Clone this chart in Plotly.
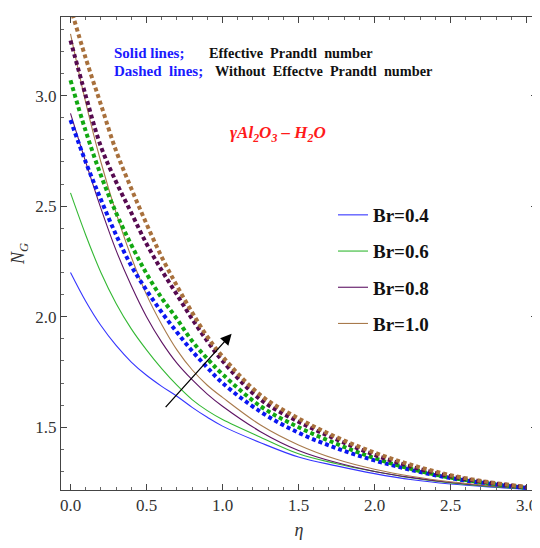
import plotly.graph_objects as go

# ---- data ----
eta = [0, 0.1, 0.2, 0.3, 0.4, 0.5, 0.6, 0.7, 0.8, 0.9, 1.0, 1.25, 1.5, 1.75, 2.0, 2.25, 2.5, 2.75, 3.0]

br_labels = ["Br=0.4", "Br=0.6", "Br=0.8", "Br=1.0"]

# solid lines: effective Prandtl number
ng_eff_04 = [2.20, 2.07, 1.96, 1.87, 1.795, 1.735, 1.685, 1.64, 1.59, 1.545, 1.505, 1.43, 1.365, 1.325, 1.29, 1.262, 1.243, 1.23, 1.22]
ng_eff_06 = [2.56, 2.37, 2.20, 2.06, 1.945, 1.85, 1.765, 1.69, 1.625, 1.575, 1.535, 1.455, 1.38, 1.335, 1.30, 1.27, 1.248, 1.232, 1.221]
ng_eff_08 = [2.92, 2.70, 2.49, 2.30, 2.14, 2.00, 1.885, 1.79, 1.715, 1.65, 1.595, 1.48, 1.395, 1.34, 1.30, 1.272, 1.25, 1.234, 1.222]
ng_eff_10 = [3.28, 2.97, 2.70, 2.47, 2.27, 2.10, 1.965, 1.85, 1.76, 1.69, 1.635, 1.51, 1.42, 1.355, 1.31, 1.277, 1.253, 1.236, 1.223]

# dashed lines: without effective Prandtl number
ng_wo_04 = [2.89, 2.70, 2.53, 2.37, 2.23, 2.12, 2.02, 1.93, 1.845, 1.77, 1.70, 1.57, 1.475, 1.405, 1.35, 1.305, 1.27, 1.245, 1.225]
ng_wo_06 = [3.07, 2.84, 2.64, 2.47, 2.325, 2.195, 2.085, 1.99, 1.89, 1.81, 1.74, 1.595, 1.50, 1.425, 1.36, 1.31, 1.272, 1.247, 1.226]
ng_wo_08 = [3.25, 3.00, 2.77, 2.61, 2.47, 2.33, 2.21, 2.10, 1.99, 1.89, 1.80, 1.625, 1.525, 1.445, 1.375, 1.32, 1.278, 1.25, 1.228]
ng_wo_10 = [3.40, 3.17, 2.96, 2.75, 2.58, 2.42, 2.27, 2.14, 2.02, 1.91, 1.82, 1.645, 1.54, 1.455, 1.385, 1.328, 1.283, 1.252, 1.23]

x_ticks = [0.0, 0.5, 1.0, 1.5, 2.0, 2.5, 3.0]
y_ticks = [1.5, 2.0, 2.5, 3.0]

# arrow (direction of increasing Br): tail and head in data units
arrow_tail = [0.617, 1.584]
arrow_head = [1.06, 1.923]

solid_colors = ["#3535ff", "#33b833", "#5e1464", "#a87a4c"]
dashed_colors = ["#0a16f2", "#12a812", "#560a50", "#a8703c"]

# the page body adds an 8px offset; the figure is sized/placed to compensate
OFF = 8
W, H = 540 - OFF, 548 - 2 * OFF
ML, MR, MT = 61 - OFF, 3, 17 - OFF
MB = H - (490 - OFF)
PW, PH = W - ML - MR, H - MT - MB


def px(x):
    # x given in screenshot pixels
    return (x - OFF - ML) / PW


def py(y):
    return 1 - (y - OFF - MT) / PH


fig = go.Figure()

solid_sets = [ng_eff_04, ng_eff_06, ng_eff_08, ng_eff_10]
dashed_sets = [ng_wo_04, ng_wo_06, ng_wo_08, ng_wo_10]

for i, (ys, lab) in enumerate(zip(solid_sets, br_labels)):
    fig.add_trace(go.Scatter(
        x=eta, y=ys, mode="lines", name="<b>" + lab + "</b>",
        line=dict(color=solid_colors[i], width=1.1, shape="spline", smoothing=1.0),
        legendgroup="g%d" % i, showlegend=True,
    ))

for i, ys in enumerate(dashed_sets):
    fig.add_trace(go.Scatter(
        x=eta, y=ys, mode="lines",
        line=dict(color=dashed_colors[i], width=4, dash="4px,3px", shape="spline", smoothing=1.0),
        showlegend=False,
    ))

serif = "Liberation Serif, Times New Roman, serif"

fig.add_annotation(
    x=arrow_head[0], y=arrow_head[1], ax=arrow_tail[0], ay=arrow_tail[1],
    xref="x", yref="y", axref="x", ayref="y",
    showarrow=True, arrowhead=2, arrowsize=1.7, arrowwidth=1.3, arrowcolor="black", text="",
)

# text annotations (positions in screenshot pixels, converted to plot-area fractions)
texts = [
    (112, 53, "<b>Solid lines;</b>", "#1a1aff", 15),
    (207, 53, "<b>Effective  Prandtl  number</b>", "#111111", 14.3),
    (112, 71, "<b>Dashed  lines;</b>", "#1a1aff", 15),
    (213, 71, "<b>Without  Effectve  Prandtl  number</b>", "#111111", 14.3),
]
for (tx, ty, t, c, s) in texts:
    fig.add_annotation(x=px(tx), y=py(ty), xref="paper", yref="paper", text=t,
                       showarrow=False, xanchor="left", yanchor="middle",
                       font=dict(family=serif, size=s, color=c))

fig.add_annotation(x=px(278), y=py(134), xref="paper", yref="paper",
                   text="<b><i>γAl<sub>2</sub>O<sub>3</sub> – H<sub>2</sub>O</i></b>",
                   showarrow=False, xanchor="center", yanchor="middle",
                   font=dict(family=serif, size=17, color="#ff1a1a"))

axis_common = dict(
    showline=True, linecolor="#444444", linewidth=1, mirror="ticks",
    ticks="inside", ticklen=6, tickcolor="#444444", tickwidth=1,
    showgrid=False, zeroline=False, automargin=False,
    tickfont=dict(family=serif, size=17, color="#333333"),
    minor=dict(ticks="inside", ticklen=3, tickcolor="#666666", dtick=0.1, showgrid=False),
)

fig.update_xaxes(range=[-0.0625, 3.069], tickvals=x_ticks,
                 ticktext=["%.1f" % v for v in x_ticks],
                 title=dict(text="<i>η</i>", font=dict(family=serif, size=18, color="#333333"), standoff=12),
                 **axis_common)
fig.update_yaxes(range=[1.216, 3.356], tickvals=y_ticks,
                 ticktext=["%.1f" % v for v in y_ticks],
                 title=dict(text="<i>N<sub>G</sub></i>", font=dict(family=serif, size=18, color="#333333"), standoff=10),
                 **axis_common)

fig.update_layout(
    width=W, height=H,
    margin=dict(l=ML, r=MR, t=MT, b=MB),
    paper_bgcolor="white", plot_bgcolor="white",
    legend=dict(x=px(333), y=py(196), xanchor="left", yanchor="top",
                font=dict(family=serif, size=19, color="#111111"),
                bgcolor="rgba(0,0,0,0)", itemwidth=30, tracegroupgap=8.5),
)

fig.write_html("out.html")
